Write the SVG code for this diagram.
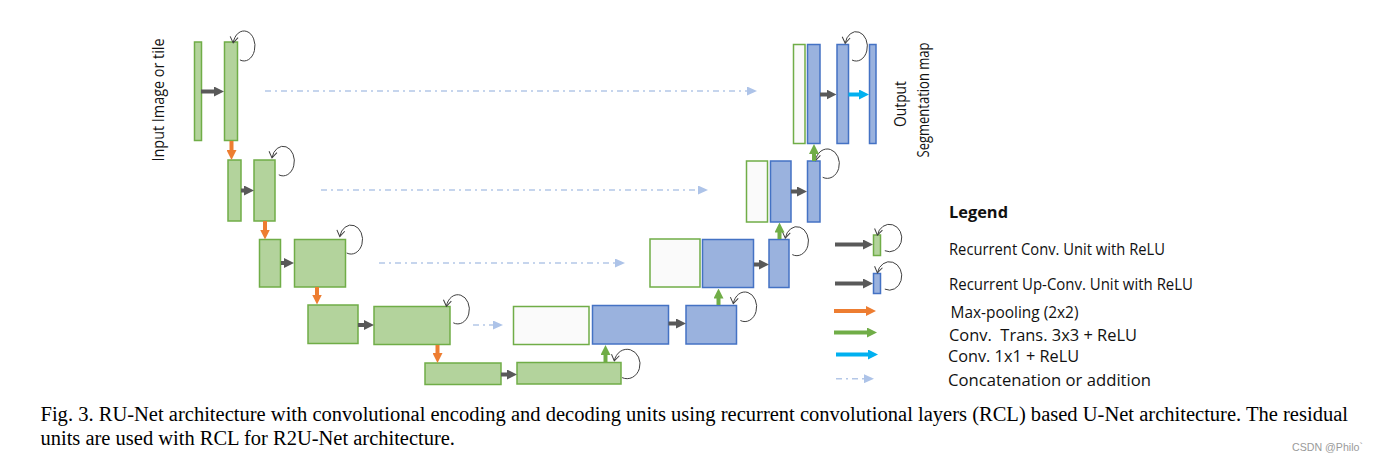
<svg xmlns="http://www.w3.org/2000/svg" width="1379" height="462" viewBox="0 0 1379 462">
<style>
.g{fill:#b3d39c;stroke:#70ad47;stroke-width:1.5}
.b{fill:#9ab2de;stroke:#4472c4;stroke-width:1.5}
.w{fill:#fafafa;stroke:#70ad47;stroke-width:1.5}
.loop{fill:none;stroke:#404040;stroke-width:1;marker-end:url(#mv)}
.ag{stroke:#595959;stroke-width:4;fill:none;marker-end:url(#hg)}
.ao{stroke:#ed7d31;stroke-width:4;fill:none;marker-end:url(#ho)}
.agr{stroke:#70ad47;stroke-width:4;fill:none;marker-end:url(#hgr)}
.ac{stroke:#00b0f0;stroke-width:4;fill:none;marker-end:url(#hc)}
.ad{stroke:#b4c7e7;stroke-width:1.6;stroke-dasharray:6 4 2 4;fill:none;marker-end:url(#hd)}
.lab{font-family:"Open Sans","Noto Sans","Liberation Sans",sans-serif;font-size:15.5px;fill:#111}
.leg{font-family:"Open Sans","Noto Sans","Liberation Sans",sans-serif;font-size:15.5px;fill:#111}
.cap{font-family:"Liberation Serif","Times New Roman",serif;font-size:20px;fill:#000}
</style>
<defs>
<marker id="hg" markerUnits="userSpaceOnUse" markerWidth="10" markerHeight="10" viewBox="0 0 10 10" refX="2" refY="5" orient="auto"><path d="M0,0 L10,5 L0,10 z" fill="#595959"/></marker>
<marker id="ho" markerUnits="userSpaceOnUse" markerWidth="10" markerHeight="10" viewBox="0 0 10 10" refX="2" refY="5" orient="auto"><path d="M0,0 L10,5 L0,10 z" fill="#ed7d31"/></marker>
<marker id="hgr" markerUnits="userSpaceOnUse" markerWidth="10" markerHeight="10" viewBox="0 0 10 10" refX="2" refY="5" orient="auto"><path d="M0,0 L10,5 L0,10 z" fill="#70ad47"/></marker>
<marker id="hc" markerUnits="userSpaceOnUse" markerWidth="10" markerHeight="10" viewBox="0 0 10 10" refX="2" refY="5" orient="auto"><path d="M0,0 L10,5 L0,10 z" fill="#00b0f0"/></marker>
<marker id="hd" markerUnits="userSpaceOnUse" markerWidth="10" markerHeight="9" viewBox="0 0 10 9" refX="0" refY="4.5" orient="auto"><path d="M0,0 L10,4.5 L0,9 z" fill="#adc3e8"/></marker>
<marker id="mv" markerUnits="userSpaceOnUse" markerWidth="8" markerHeight="8" viewBox="0 0 8 8" refX="6" refY="4" orient="auto" overflow="visible"><path d="M0,0 L6,4 L0,8" fill="none" stroke="#404040" stroke-width="1"/></marker>
</defs>

<g id="encoder-level1">
<rect class="g" x="194.5" y="42" width="7" height="98.5"/>
<rect class="g" x="224.5" y="42" width="13" height="98.5"/>
<path class="loop" d="M239.9,59.9 A11,15 0 1 0 233.2,42.9"/>
</g>
<g id="encoder-level2">
<rect class="g" x="228" y="160" width="13" height="61"/>
<rect class="g" x="254" y="160" width="21" height="61"/>
<path class="loop" d="M278.8,174.8 A11.3,14.8 0 1 0 272,157.9"/>
</g>
<g id="encoder-level3">
<rect class="g" x="259.5" y="239.5" width="21" height="47.5"/>
<rect class="g" x="294.5" y="239.5" width="51" height="47.5"/>
<path class="loop" d="M346.7,253 A11.5,14.5 0 1 0 339.8,236.5"/>
</g>
<g id="encoder-level4">
<rect class="g" x="308" y="305" width="50" height="38.5"/>
<rect class="g" x="374" y="306.5" width="76" height="38"/>
<path class="loop" d="M453.3,322.8 A11.6,14.6 0 1 0 446.4,306.3"/>
</g>
<g id="bottleneck">
<rect class="g" x="425" y="363" width="76" height="21.5"/>
<rect class="g" x="517" y="362.5" width="104" height="21.5"/>
<path class="loop" d="M622.1,377.6 A13,14.7 0 1 0 614.3,360.9"/>
</g>
<g id="decoder-level4">
<rect class="w" x="513.5" y="306.5" width="75.5" height="38"/>
<rect class="b" x="592.5" y="305.5" width="76" height="38.5"/>
<rect class="b" x="686" y="305.5" width="50.5" height="38.5"/>
<path class="loop" d="M740.4,320.5 A11.8,14.8 0 1 0 733.3,303.7"/>
</g>
<g id="decoder-level3">
<rect class="w" x="650" y="239" width="50" height="48"/>
<rect class="b" x="702.5" y="239.5" width="51" height="48"/>
<rect class="b" x="769" y="239.5" width="20" height="48"/>
<path class="loop" d="M792.3,254.6 A11.7,14.5 0 1 0 785.3,238.2"/>
</g>
<g id="decoder-level2">
<rect class="w" x="746.5" y="161" width="21" height="61"/>
<rect class="b" x="770.5" y="161" width="20.5" height="61"/>
<rect class="b" x="807.5" y="161" width="12.5" height="61"/>
<path class="loop" d="M822.7,177.3 A12.1,14.7 0 1 0 815.4,160.6"/>
</g>
<g id="decoder-level1">
<rect class="w" x="793.5" y="44.5" width="11.5" height="99"/>
<rect class="b" x="807.5" y="44.5" width="12.5" height="99"/>
<rect class="b" x="837" y="44.5" width="11.5" height="99"/>
<path class="loop" d="M852,60 A11.2,14.7 0 1 0 845.2,43.3"/>
</g>
<g id="output">
<rect class="b" x="869.5" y="44.5" width="6.5" height="99"/>
</g>

<g id="connectors">
<line class="ag" x1="201" y1="91.5" x2="216" y2="91.5"/>
<line class="ag" x1="241" y1="190.5" x2="246" y2="190.5"/>
<line class="ag" x1="281" y1="263" x2="286" y2="263"/>
<line class="ag" x1="358" y1="325" x2="366" y2="325"/>
<line class="ag" x1="501" y1="374.5" x2="509" y2="374.5"/>
<line class="ag" x1="668.5" y1="323.5" x2="678" y2="323.5"/>
<line class="ag" x1="754" y1="264.5" x2="761" y2="264.5"/>
<line class="ag" x1="791" y1="191.5" x2="799" y2="191.5"/>
<line class="ag" x1="820" y1="94.5" x2="828.5" y2="94.5"/>
<line class="ao" x1="231.5" y1="141" x2="231.5" y2="152"/>
<line class="ao" x1="265" y1="221" x2="265" y2="231.5"/>
<line class="ao" x1="317" y1="287" x2="317" y2="296.5"/>
<line class="ao" x1="437.5" y1="345" x2="437.5" y2="355"/>
<line class="agr" x1="605.5" y1="362" x2="605.5" y2="353"/>
<line class="agr" x1="718.5" y1="305" x2="718.5" y2="296.5"/>
<line class="agr" x1="779.5" y1="239" x2="779.5" y2="230.5"/>
<line class="agr" x1="814" y1="161" x2="814" y2="152"/>
<line class="ac" x1="848.5" y1="94.5" x2="861" y2="94.5"/>
<line class="ad" x1="265" y1="91" x2="747" y2="91"/>
<line class="ad" x1="321" y1="190" x2="698" y2="190"/>
<line class="ad" x1="379" y1="263" x2="615" y2="263"/>
<line class="ad" x1="473" y1="325" x2="493" y2="325"/>
</g>

<g id="labels">
<text class="lab" transform="translate(164,100) rotate(-90)" text-anchor="middle" textLength="123" lengthAdjust="spacingAndGlyphs">Input Image or tile</text>
<text class="lab" transform="translate(906,104) rotate(-90)" text-anchor="middle" textLength="46" lengthAdjust="spacingAndGlyphs">Output</text>
<text class="lab" transform="translate(929,100) rotate(-90)" text-anchor="middle" textLength="115" lengthAdjust="spacingAndGlyphs">Segmentation map</text>
</g>

<g id="legend">
<text class="leg" x="949" y="218" font-weight="bold" textLength="59" lengthAdjust="spacingAndGlyphs">Legend</text>
<line class="ag" x1="835" y1="244.5" x2="865" y2="244.5"/>
<rect class="g" x="873.5" y="235" width="7" height="20.5"/>
<path class="loop" d="M884.8,250.7 A12.3,13.7 0 1 0 877.4,235.2"/>
<text class="leg" x="949" y="254.5" textLength="216" lengthAdjust="spacingAndGlyphs">Recurrent Conv. Unit with ReLU</text>
<line class="ag" x1="835" y1="283.5" x2="865" y2="283.5"/>
<rect class="b" x="873.5" y="273.5" width="7" height="20"/>
<path class="loop" d="M884.8,289.1 A12.3,14.2 0 1 0 877.4,272.9"/>
<text class="leg" x="949" y="289.5" textLength="244" lengthAdjust="spacingAndGlyphs">Recurrent Up-Conv. Unit with ReLU</text>
<line class="ao" x1="834" y1="311" x2="868" y2="311"/>
<text class="leg" x="950.5" y="317.5" textLength="128" lengthAdjust="spacingAndGlyphs">Max-pooling (2x2)</text>
<line class="agr" x1="834" y1="332.5" x2="869" y2="332.5"/>
<text class="leg" x="949" y="340.5" xml:space="preserve" textLength="188" lengthAdjust="spacingAndGlyphs">Conv.  Trans. 3x3 + ReLU</text>
<line class="ac" x1="836" y1="354.5" x2="870" y2="354.5"/>
<text class="leg" x="948" y="362" textLength="131" lengthAdjust="spacingAndGlyphs">Conv. 1x1 + ReLU</text>
<line class="ad" x1="836" y1="378.7" x2="864" y2="378.7"/>
<text class="leg" x="948" y="386" textLength="203" lengthAdjust="spacingAndGlyphs">Concatenation or addition</text>
</g>

<g id="caption">
<text class="cap" x="40.5" y="421" textLength="1307.5" lengthAdjust="spacingAndGlyphs">Fig. 3. RU-Net architecture with convolutional encoding and decoding units using recurrent convolutional layers (RCL) based U-Net architecture. The residual</text>
<text class="cap" x="40.5" y="444.5" textLength="414.5" lengthAdjust="spacingAndGlyphs">units are used with RCL for R2U-Net architecture.</text>
<text x="1292" y="451" font-family="'Liberation Sans',Arial,sans-serif" font-size="11" fill="#9a9a9a" textLength="71" lengthAdjust="spacingAndGlyphs">CSDN @Philo`</text>
</g>
</svg>
